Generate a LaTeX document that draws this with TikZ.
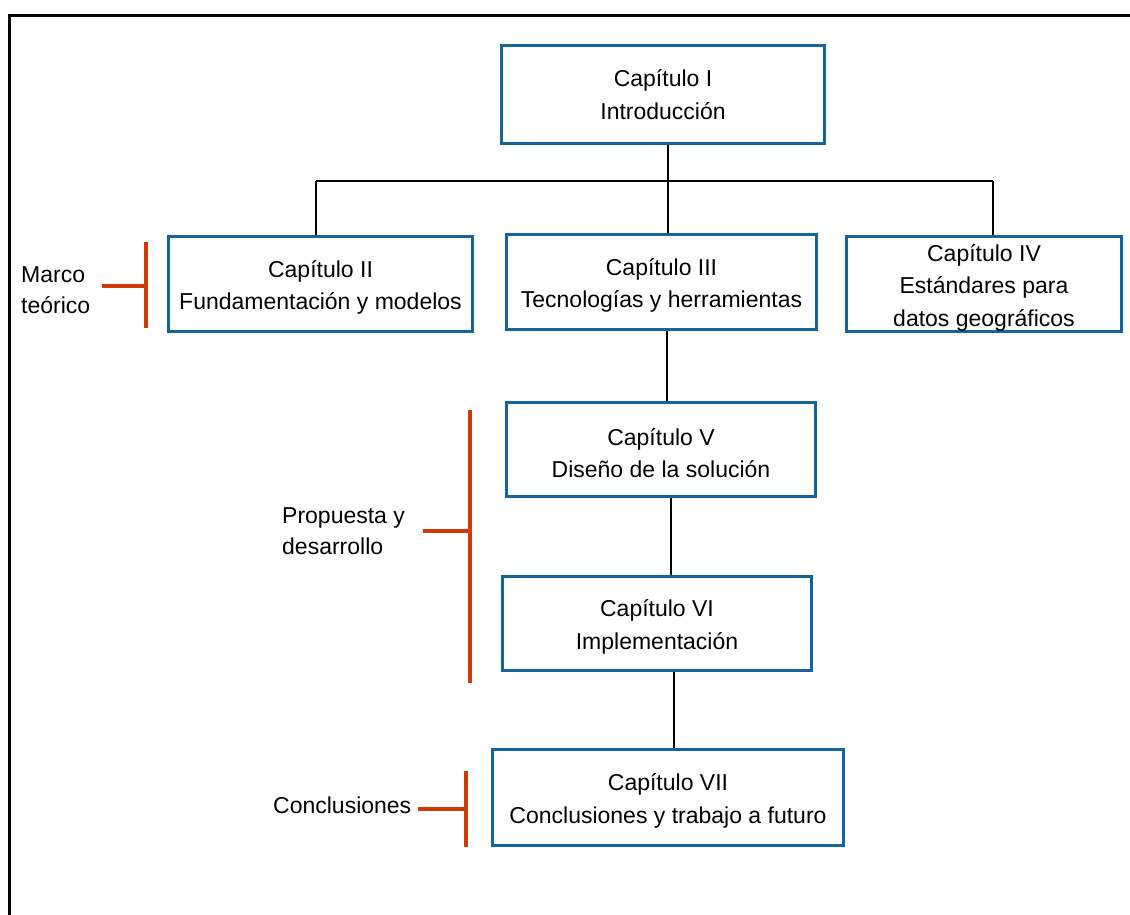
\documentclass[tikz,border=0pt]{standalone}
\usepackage{fontspec}
\setmainfont{Liberation Sans}
\definecolor{boxblue}{HTML}{14669A}
\definecolor{markred}{HTML}{CF3A06}
\begin{document}
\begin{tikzpicture}[x=1pt,y=-1pt,
  chapter/.style={draw=boxblue,line width=3pt,inner sep=0pt},
  chaptertext/.style={align=center,inner sep=0pt,
    font=\fontsize{23}{32.5}\selectfont},
  lowered/.style={yshift=-3.5pt},
  link/.style={draw=black,line width=2pt},
  bracket/.style={draw=markred,line width=4pt},
  partlabel/.style={align=left,anchor=west,inner sep=0pt,
    font=\fontsize{23}{31}\selectfont}]
  \useasboundingbox (0,0) rectangle (1130,915);
  % frame along the top and left edge
  \draw[line width=3pt] (9.5,915) -- (9.5,15.5) -- (1130,15.5);

  % chapter boxes; lower rows carry their titles a little below centre
  \node[chapter,minimum width=323pt,minimum height=98pt,
    label={[chaptertext]center:{Capítulo I\\Introducción}}] (c1) at (663,94.5) {};
  \node[chapter,minimum width=304pt,minimum height=95pt,
    label={[chaptertext,lowered]center:{Capítulo II\\Fundamentación y modelos}}] (c2) at (320.5,284) {};
  \node[chapter,minimum width=310pt,minimum height=95pt,
    label={[chaptertext,lowered]center:{Capítulo III\\Tecnologías y herramientas}}] (c3) at (661.5,282) {};
  \node[chapter,minimum width=275pt,minimum height=95pt,
    label={[chaptertext,lowered]center:{Capítulo IV\\Estándares para\\datos geográficos}}] (c4) at (984,284) {};
  \node[chapter,minimum width=309pt,minimum height=94pt,
    label={[chaptertext,lowered]center:{Capítulo V\\Diseño de la solución}}] (c5) at (661,449.5) {};
  \node[chapter,minimum width=309pt,minimum height=94pt,
    label={[chaptertext,lowered]center:{Capítulo VI\\Implementación}}] (c6) at (657,623.5) {};
  \node[chapter,minimum width=351pt,minimum height=96pt,
    label={[chaptertext,lowered]center:{Capítulo VII\\Conclusiones y trabajo a futuro}}] (c7) at (668,797.5) {};

  % connectors
  \coordinate (busl) at (316,181);
  \coordinate (busm) at (668,181);
  \coordinate (busr) at (993,181);
  \draw[link] (busl) -- (busr);
  \draw[link] (c1.south -| busm) -- (c3.north -| busm);
  \draw[link] (busl) -- (c2.north -| busl);
  \draw[link] (busr) -- (c4.north -| busr);
  \draw[link] ([xshift=5.5pt]c3.south) -- ([xshift=6pt]c5.north);
  \draw[link] ([xshift=10pt]c5.south) -- ([xshift=14pt]c6.north);
  \draw[link] ([xshift=17pt]c6.south) -- ([xshift=6pt]c7.north);

  % part labels with brackets
  \node[partlabel] (p1) at (21,290) {Marco\\teórico};
  \coordinate (p1top) at (146,242);
  \coordinate (p1bot) at (146,328);
  \coordinate (p1tip) at (102,285.5);
  \draw[bracket] (p1top) -- (p1bot);
  \draw[bracket] (p1tip) -- (p1tip -| p1top);

  \node[partlabel] (p2) at (282,531) {Propuesta y\\desarrollo};
  \coordinate (p2top) at (470,410);
  \coordinate (p2bot) at (470,683);
  \coordinate (p2tip) at (423,531);
  \draw[bracket] (p2top) -- (p2bot);
  \draw[bracket] (p2tip) -- (p2tip -| p2top);

  \node[partlabel] (p3) at (273,805) {Conclusiones};
  \coordinate (p3top) at (466,771);
  \coordinate (p3bot) at (466,847);
  \coordinate (p3tip) at (418,809);
  \draw[bracket] (p3top) -- (p3bot);
  \draw[bracket] (p3tip) -- (p3tip -| p3top);
\end{tikzpicture}
\end{document}
